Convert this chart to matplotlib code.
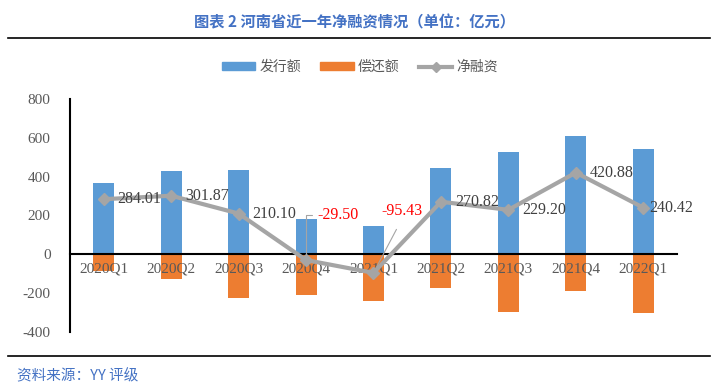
import numpy as np
import matplotlib
matplotlib.use('Agg')
import matplotlib.pyplot as plt
from matplotlib.lines import Line2D
from matplotlib.patches import Patch

# данные (млрд юаней, квартальные)
quarters = ['2020Q1', '2020Q2', '2020Q3', '2020Q4', '2021Q1',
            '2021Q2', '2021Q3', '2021Q4', '2022Q1']
issuance = [368, 429, 435, 182, 145, 443, 527, 610, 541]
repayment = [-84, -127, -225, -211.5, -240.4, -172.2, -297.8, -189.1, -300.6]
net_financing = [284.01, 301.87, 210.10, -29.50, -95.43, 270.82, 229.20, 420.88, 240.42]

BLUE = '#5B9BD5'
ORANGE = '#ED7D31'
GRAY = '#A5A5A5'
SERIF = 'Liberation Serif'
CJK = ['Noto Sans CJK SC', 'DejaVu Sans']

fig = plt.figure(figsize=(7.21, 3.90), dpi=100)
ax = fig.add_axes([70 / 721, 1 - 332 / 390, 607 / 721, 233 / 390])
ax.set_axisbelow(False)

x = np.arange(len(quarters))
w = 0.31
ax.bar(x, issuance, width=w, color=BLUE, zorder=1)
ax.bar(x, repayment, width=w, color=ORANGE, zorder=1)
ax.plot(x, net_financing, color=GRAY, lw=3, marker='D', markersize=6,
        zorder=4)

ax.set_xlim(-0.5, len(quarters) - 0.5)
ax.set_ylim(-400, 800)
ax.set_yticks(np.arange(-400, 801, 200))
ax.set_yticklabels([str(v) for v in range(-400, 801, 200)],
                   fontfamily=SERIF, fontsize=11, color='#595959')
ax.tick_params(axis='y', length=0, pad=14)

ax.spines['top'].set_visible(False)
ax.spines['right'].set_visible(False)
ax.spines['left'].set_linewidth(1.5)
ax.spines['bottom'].set_position(('data', 0))
ax.spines['bottom'].set_linewidth(1.5)
ax.set_xticks(x)
ax.set_xticklabels(quarters, fontfamily=SERIF, fontsize=11, color='#595959')
ax.tick_params(axis='x', length=0, pad=6)

# подписи чистого финансирования
for i, v in enumerate(net_financing):
    if v < 0:
        continue
    dx = 4 if i == len(quarters) - 1 else 10
    ax.annotate(f'{v:.2f}', (i, v), xytext=(dx, 0), textcoords='offset points',
                ha='left', va='center', fontfamily=SERIF, fontsize=11.5,
                color='#404040', zorder=5)

ax.annotate(f'{net_financing[3]:.2f}', (3, net_financing[3]),
            xytext=(3.17, 200), textcoords='data', ha='left', va='center',
            fontfamily=SERIF, fontsize=11.5, color='red',
            arrowprops=dict(arrowstyle='-', color=GRAY, lw=0.8,
                            connectionstyle='angle,angleA=0,angleB=90,rad=0',
                            shrinkA=2, shrinkB=3, relpos=(0, 0.5)))
ax.annotate(f'{net_financing[4]:.2f}', (4, net_financing[4]),
            xytext=(4.42, 222), textcoords='data', ha='center', va='center',
            fontfamily=SERIF, fontsize=11.5, color='red',
            arrowprops=dict(arrowstyle='-', color=GRAY, lw=0.8,
                            shrinkA=6, shrinkB=3, relpos=(0.5, 0)))

# легенда
handles = [Patch(color=BLUE), Patch(color=ORANGE),
           Line2D([], [], color=GRAY, lw=3, marker='D', markersize=5)]
fig.legend(handles, ['发行额', '偿还额', '净融资'], loc='center',
           bbox_to_anchor=(360 / 721, 1 - 67 / 390), ncol=3, frameon=False,
           prop={'family': CJK, 'size': 10}, labelcolor='#595959',
           handlelength=2.4, handleheight=0.5, columnspacing=1.4,
           handletextpad=0.3)

fig.text(355 / 721, 1 - 22 / 390, '图表 2 河南省近一年净融资情况（单位：亿元）',
         ha='center', va='center', fontfamily=CJK, fontsize=11,
         fontweight='bold', color='#4472C4')
fig.add_artist(Line2D([8 / 721, 710 / 721], [1 - 38 / 390, 1 - 38 / 390],
                      color='black', lw=1.2))
fig.add_artist(Line2D([8 / 721, 710 / 721], [1 - 356 / 390, 1 - 356 / 390],
                      color='black', lw=1.2))
fig.text(17 / 721, 1 - 376 / 390, '资料来源：YY 评级', ha='left', va='center',
         fontfamily=CJK, fontsize=10.5, color='#4472C4')

fig.savefig('out.png', dpi=100)
